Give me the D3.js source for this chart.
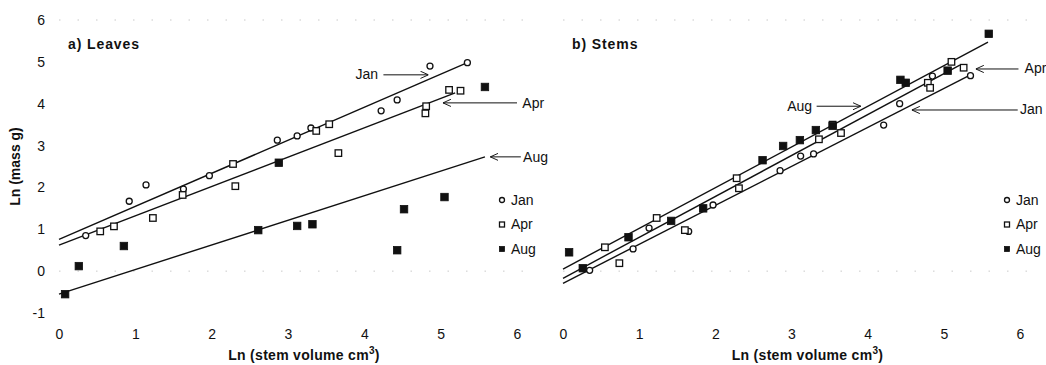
<!DOCTYPE html>
<html>
<head>
<meta charset="utf-8">
<script src="https://cdn.jsdelivr.net/npm/d3@7"></script>
<style>
  html, body { margin: 0; padding: 0; background: #fff; }
  svg { display: block; font-family: "Liberation Sans", Arial, sans-serif; }
</style>
</head>
<body>
<svg id="chart" width="1046" height="365"></svg>
<script>
// ---- data: ln(stem volume) vs ln(mass) ----
const months = ["Jan", "Apr", "Aug"];
const xTicks = [0, 1, 2, 3, 4, 5, 6];
const yTicks = [-1, 0, 1, 2, 3, 4, 5, 6];

// a) Leaves
const leafJanX = [0.35, 0.92, 1.14, 1.63, 1.97, 2.86, 3.12, 3.30, 4.22, 4.43, 4.86, 5.35];
const leafJanY = [0.85, 1.67, 2.06, 1.96, 2.28, 3.13, 3.23, 3.42, 3.83, 4.09, 4.90, 4.98];
const leafAprX = [0.54, 0.72, 1.23, 1.62, 2.28, 2.31, 3.37, 3.54, 3.66, 4.80, 4.81, 5.11, 5.26];
const leafAprY = [0.95, 1.07, 1.27, 1.82, 2.56, 2.03, 3.35, 3.51, 2.82, 3.77, 3.94, 4.33, 4.31];
const leafAugX = [0.08, 0.26, 0.85, 2.61, 2.88, 3.12, 3.32, 4.43, 4.52, 5.05, 5.58];
const leafAugY = [-0.55, 0.12, 0.60, 0.98, 2.59, 1.08, 1.12, 0.50, 1.48, 1.77, 4.40];
// fitted lines: [x start, y start, x end, y end]
const leafJanFit = [0, 0.76, 5.35, 4.98];
const leafAprFit = [0, 0.62, 5.19, 4.26];
const leafAugFit = [0, -0.55, 5.58, 2.73];

// b) Stems
const stemJanX = [0.35, 0.92, 1.13, 1.65, 1.97, 2.85, 3.12, 3.29, 4.21, 4.42, 4.85, 5.35];
const stemJanY = [0.02, 0.53, 1.03, 0.95, 1.58, 2.40, 2.75, 2.80, 3.49, 4.00, 4.66, 4.67];
const stemAprX = [0.55, 0.74, 1.23, 1.60, 2.28, 2.31, 3.36, 3.54, 3.65, 4.79, 4.82, 5.10, 5.26];
const stemAprY = [0.57, 0.19, 1.27, 0.98, 2.22, 1.98, 3.15, 3.50, 3.30, 4.50, 4.38, 5.00, 4.86];
const stemAugX = [0.08, 0.26, 0.86, 1.42, 1.84, 2.62, 2.89, 3.11, 3.32, 3.54, 4.43, 4.50, 5.05, 5.59];
const stemAugY = [0.45, 0.07, 0.81, 1.20, 1.50, 2.65, 2.99, 3.13, 3.37, 3.47, 4.57, 4.50, 4.79, 5.67];
const stemJanFit = [0, -0.29, 5.35, 4.69];
const stemAprFit = [0, -0.17, 5.21, 4.92];
const stemAugFit = [0, 0.05, 5.58, 5.47];

// line callouts: label, label anchor (x, y), arrow from (x, y) to (x, y)
const leafNotes = [
  { text: "Jan", tx: 4.18, ty: 4.71, anchor: "end",   x1: 4.25, y1: 4.69, x2: 4.84, y2: 4.69 },
  { text: "Apr", tx: 6.07, ty: 4.02, anchor: "start", x1: 6.00, y1: 4.02, x2: 5.03, y2: 4.02 },
  { text: "Aug", tx: 6.08, ty: 2.73, anchor: "start", x1: 6.05, y1: 2.73, x2: 5.65, y2: 2.73 }
];
const stemNotes = [
  { text: "Aug", tx: 3.27, ty: 3.94, anchor: "end",   x1: 3.33, y1: 3.94, x2: 3.91, y2: 3.94 },
  { text: "Apr", tx: 6.06, ty: 4.85, anchor: "start", x1: 5.98, y1: 4.83, x2: 5.42, y2: 4.83 },
  { text: "Jan", tx: 6.00, ty: 3.87, anchor: "start", x1: 5.97, y1: 3.85, x2: 4.58, y2: 3.85 }
];

const svg = d3.select("#chart");

const y = d3.scaleLinear().domain([-1, 6]).range([313, 20]);
const tickFmt = d => String(d);   // plain hyphen for negatives, no decimals

const panels = [
  {
    title: "a) Leaves", x0: 59, x1: 517, showY: true, legendX: 502,
    series: [
      { xs: leafJanX, ys: leafJanY, shape: "circle" },
      { xs: leafAprX, ys: leafAprY, shape: "square" },
      { xs: leafAugX, ys: leafAugY, shape: "filled" }
    ],
    fits: [leafJanFit, leafAprFit, leafAugFit],
    notes: leafNotes
  },
  {
    title: "b) Stems", x0: 563, x1: 1020, showY: false, legendX: 1007,
    series: [
      { xs: stemJanX, ys: stemJanY, shape: "circle" },
      { xs: stemAprX, ys: stemAprY, shape: "square" },
      { xs: stemAugX, ys: stemAugY, shape: "filled" }
    ],
    fits: [stemJanFit, stemAprFit, stemAugFit],
    notes: stemNotes
  }
];

// open arrowhead used by the callouts
svg.append("defs").append("marker")
  .attr("id", "head")
  .attr("viewBox", "0 -5 10 10")
  .attr("refX", 10).attr("refY", 0)
  .attr("markerWidth", 8).attr("markerHeight", 8)
  .attr("markerUnits", "userSpaceOnUse")
  .attr("orient", "auto")
  .append("path")
  .attr("d", "M0,-4.5L10,0L0,4.5")
  .attr("fill", "none").attr("stroke", "#111").attr("stroke-width", 1.2);

function drawMarker(g, shape, cx, cy, size) {
  if (shape === "circle") {
    g.append("circle").attr("cx", cx).attr("cy", cy).attr("r", size / 2)
      .attr("fill", "#fff").attr("stroke", "#111").attr("stroke-width", 1.3);
  } else {
    g.append("rect")
      .attr("x", cx - size / 2).attr("y", cy - size / 2)
      .attr("width", size).attr("height", size)
      .attr("fill", shape === "filled" ? "#111" : "#fff")
      .attr("stroke", "#111").attr("stroke-width", shape === "filled" ? 0.8 : 1.3);
  }
}

panels.forEach(p => {
  const x = d3.scaleLinear().domain([0, 6]).range([p.x0, p.x1]);
  const g = svg.append("g");

  // faint scan-style guide lines at the frame rows
  [6, 0].forEach(v => {
    g.append("line")
      .attr("x1", x(0)).attr("x2", x(6.3))
      .attr("y1", y(v)).attr("y2", y(v))
      .attr("stroke", "#bbb").attr("stroke-width", 0.8)
      .attr("stroke-dasharray", "1.5,17");
  });

  // x axis labels
  const xAxis = d3.axisBottom(x).tickValues(xTicks).tickFormat(tickFmt).tickSize(0).tickPadding(0);
  const xg = g.append("g").attr("transform", "translate(0,329)").call(xAxis);
  xg.select(".domain").remove();
  xg.selectAll("text").attr("font-size", 14).attr("fill", "#111")
    .attr("font-family", "Liberation Sans, Arial, sans-serif");

  if (p.showY) {
    const yAxis = d3.axisLeft(y).tickValues(yTicks).tickFormat(tickFmt).tickSize(0).tickPadding(0);
    const yg = g.append("g").attr("transform", "translate(" + (p.x0 - 14) + ",0)").call(yAxis);
    yg.select(".domain").remove();
    yg.selectAll("text").attr("font-size", 14).attr("fill", "#111")
      .attr("font-family", "Liberation Sans, Arial, sans-serif");

    g.append("text")
      .attr("transform", "translate(20," + y(2.5) + ") rotate(-90)")
      .attr("text-anchor", "middle")
      .attr("font-size", 14).attr("font-weight", "bold").attr("fill", "#111")
      .text("Ln (mass g)");
  }

  // x axis title with superscript
  const xt = g.append("text")
    .attr("x", (p.x0 + p.x1) / 2 + 16).attr("y", 360)
    .attr("text-anchor", "middle")
    .attr("font-size", 14).attr("font-weight", "bold").attr("fill", "#111")
    .attr("letter-spacing", 0.3);
  xt.append("tspan").text("Ln (stem volume cm");
  xt.append("tspan").attr("dy", -6).attr("font-size", 10).text("3");
  xt.append("tspan").attr("dy", 6).text(")");

  // panel title
  g.append("text")
    .attr("x", p.x0 + 9).attr("y", 49)
    .attr("font-size", 14).attr("font-weight", "bold").attr("fill", "#111")
    .attr("letter-spacing", 0.9)
    .text(p.title);

  // fitted lines
  p.fits.forEach(f => {
    g.append("line")
      .attr("x1", x(f[0])).attr("y1", y(f[1]))
      .attr("x2", x(f[2])).attr("y2", y(f[3]))
      .attr("stroke", "#111").attr("stroke-width", 1.4);
  });

  // points
  p.series.forEach(s => {
    const size = s.shape === "circle" ? 6 : (s.shape === "filled" ? 7.5 : 6.5);
    s.xs.forEach((xv, i) => drawMarker(g, s.shape, x(xv), y(s.ys[i]), size));
  });

  // callouts
  p.notes.forEach(n => {
    g.append("line")
      .attr("x1", x(n.x1)).attr("y1", y(n.y1))
      .attr("x2", x(n.x2)).attr("y2", y(n.y2))
      .attr("stroke", "#111").attr("stroke-width", 1)
      .attr("marker-end", "url(#head)");
    g.append("text")
      .attr("x", x(n.tx)).attr("y", y(n.ty))
      .attr("dy", "0.35em")
      .attr("text-anchor", n.anchor)
      .attr("font-size", 14).attr("fill", "#111")
      .text(n.text);
  });

  // legend
  months.forEach((m, i) => {
    const ly = 200 + i * 24.5;
    drawMarker(g, p.series[i].shape, p.legendX, ly, 5);
    g.append("text")
      .attr("x", p.legendX + 9).attr("y", ly).attr("dy", "0.35em")
      .attr("font-size", 14).attr("fill", "#111")
      .text(m);
  });
});
</script>
</body>
</html>
